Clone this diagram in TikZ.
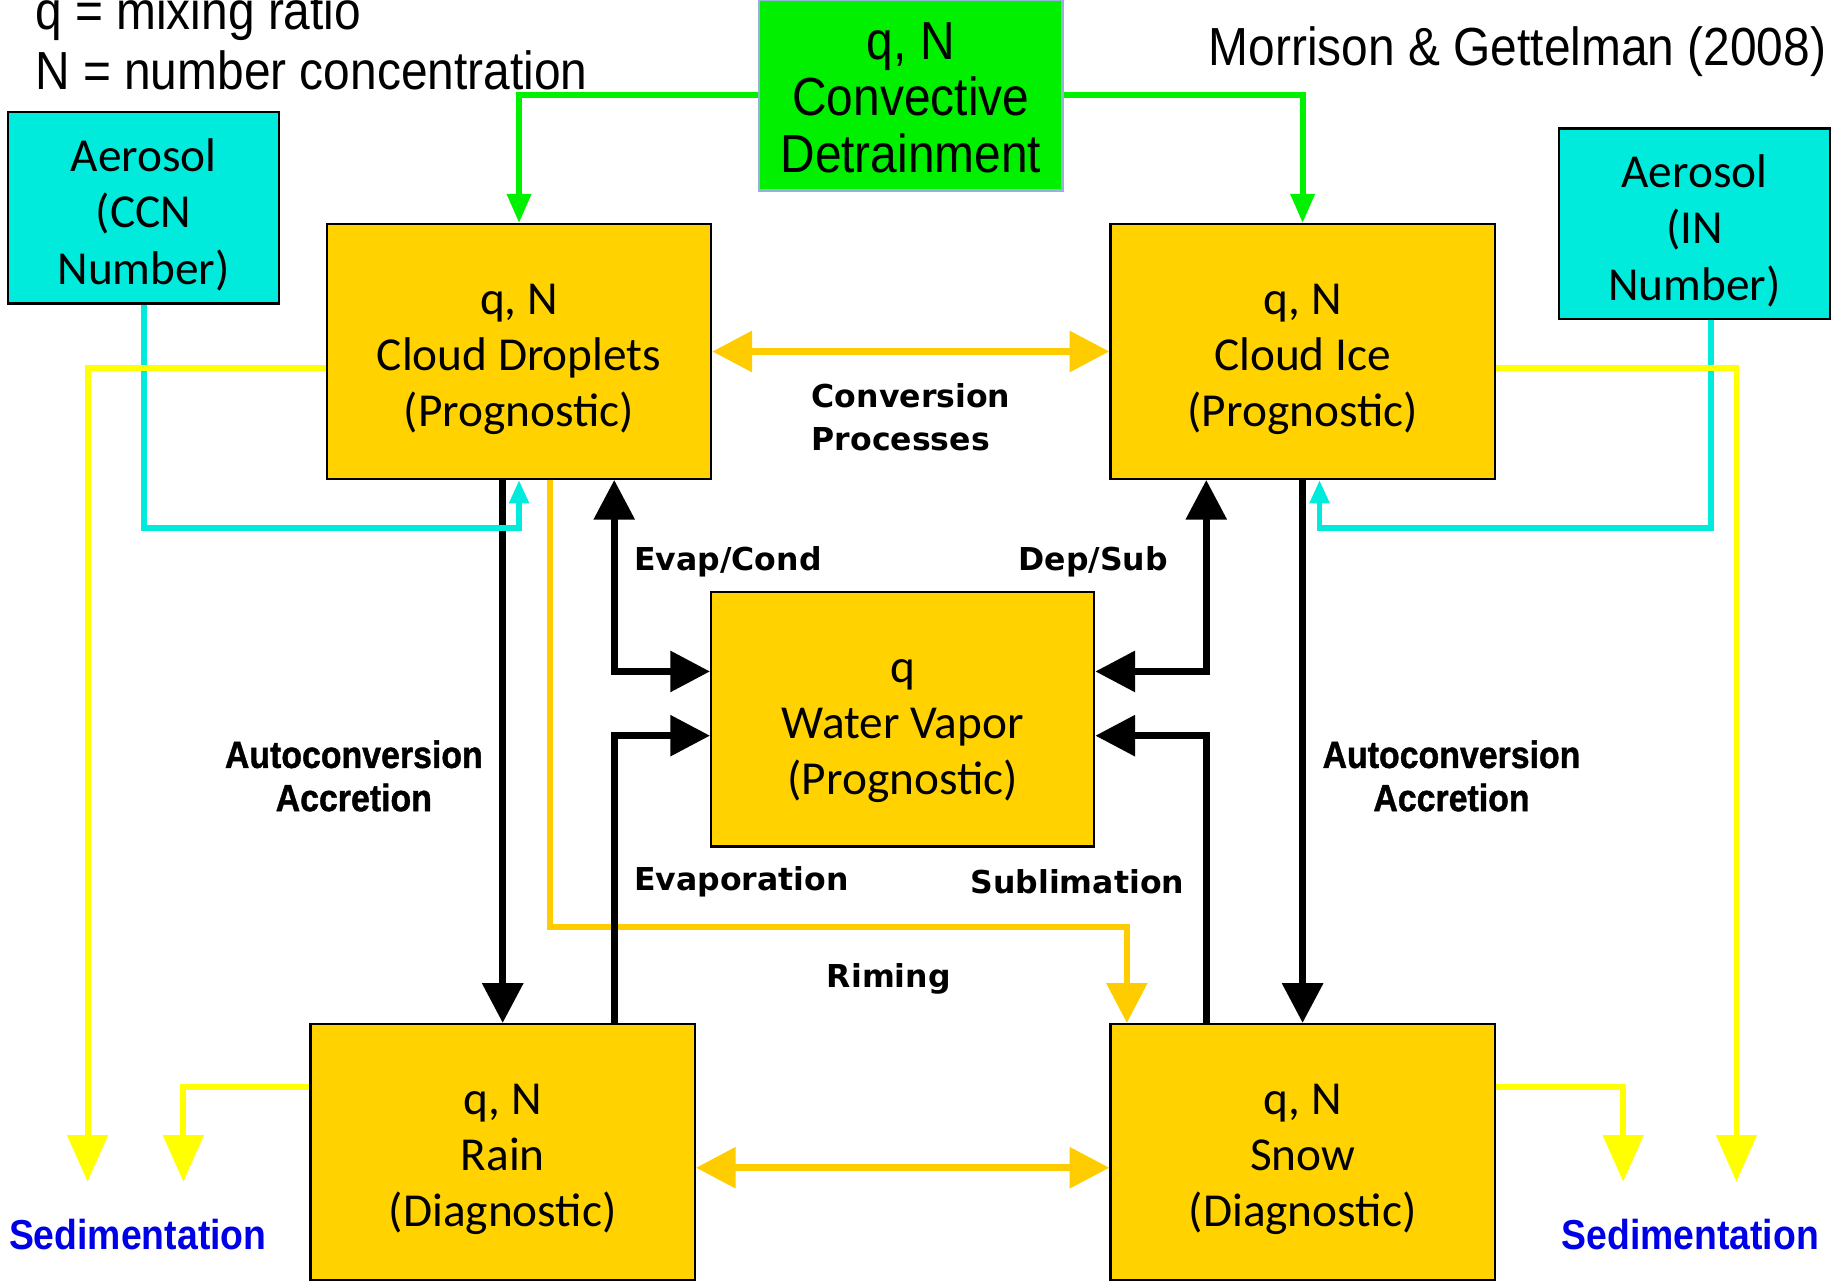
\documentclass[tikz,border=0pt]{standalone}
\usepackage{fontspec}
\usepackage{graphicx}
\usetikzlibrary{arrows.meta}
\newfontfamily\boxfont{Carlito}
\newfontfamily\arialfont{Liberation Sans}
\newfontfamily\heavyfont{Liberation Sans Bold}[FakeBold=1.2]
\newfontfamily\labfont{DejaVu Sans}
\definecolor{boxgold}{RGB}{255,210,0}
\definecolor{linegold}{RGB}{255,204,0}
\definecolor{aerocyan}{RGB}{0,235,220}
\definecolor{convgreen}{RGB}{0,240,0}
\definecolor{convedge}{RGB}{149,179,215}
\definecolor{sedblue}{RGB}{0,0,230}
\definecolor{sedyellow}{RGB}{255,255,0}
\newcommand\vst[1]{\scalebox{1}[1.12]{#1}}
\newcommand\boxtext[2]{\raisebox{-#1}[\height][\depth]{\begin{tabular}{@{}c@{}}#2\end{tabular}}}
\tikzset{
  procbox/.style={draw=black, line width=2pt, fill=boxgold, inner sep=0pt,
    minimum width=329pt, minimum height=218pt,
    font=\boxfont\fontsize{40.5}{48}\selectfont},
  aerobox/.style={draw=black, line width=2pt, fill=aerocyan, inner sep=0pt,
    minimum width=232pt, minimum height=164pt,
    font=\boxfont\fontsize{40.5}{48.5}\selectfont},
  convbox/.style={draw=convedge, line width=2pt, fill=convgreen, inner sep=0pt,
    minimum width=260pt, minimum height=163pt,
    font=\arialfont\fontsize{41}{48.5}\selectfont},
  lab/.style={inner sep=0pt, font=\labfont\bfseries\fontsize{27}{37}\selectfont},
  autolab/.style={inner sep=0pt, align=center, font=\heavyfont\fontsize{29}{37}\selectfont},
  sedlab/.style={inner sep=0pt, text=sedblue, font=\arialfont\bfseries\fontsize{32}{38}\selectfont},
  toptext/.style={inner sep=0pt, anchor=base west, font=\arialfont\fontsize{41}{48}\selectfont},
  blkone/.style={draw=black, line width=6pt, -{Triangle[length=34pt,width=34pt]}},
  blktwo/.style={draw=black, line width=6pt, {Triangle[length=34pt,width=34pt]}-{Triangle[length=34pt,width=34pt]}},
  goldtwo/.style={draw=linegold, line width=6pt, {Triangle[length=34pt,width=34pt]}-{Triangle[length=34pt,width=34pt]}},
  goldone/.style={draw=linegold, line width=5pt, -{Triangle[length=34pt,width=34pt]}},
  yelone/.style={draw=sedyellow, line width=5pt, -{Triangle[length=40pt,width=34pt]}},
  grnone/.style={draw=convgreen, line width=5pt, -{Triangle[length=25pt,width=20pt]}},
  cyaone/.style={draw=aerocyan, line width=5pt, -{Triangle[length=20pt,width=16pt]}},
}
\begin{document}
\begin{tikzpicture}[x=1pt,y=-1pt]
\useasboundingbox (0,0) rectangle (1568,1097);
\fill[white] (0,0) rectangle (1568,1097);

% text
\node[toptext] (t1) at (30,25) {\vst{q = mixing ratio}};
\node[toptext] (t2) at (30,77) {\vst{N = number concentration}};
\node[toptext] (t3) at (1035,56) {\vst{Morrison \& Gettelman (2008)}};

% boxes
\node[convbox] (conv) at (780,81.5) {\boxtext{8pt}{\vst{q, N}\\\vst{Convective}\\\vst{Detrainment}}};
\node[procbox] (cd) at (444.5,301) {\boxtext{7pt}{q, N\\Cloud Droplets\\(Prognostic)}};
\node[procbox] (ci) at (1115.5,301) {\boxtext{7pt}{q, N\\Cloud Ice\\(Prognostic)}};
\node[procbox, minimum width=328pt] (wv) at (773,616) {\boxtext{7pt}{q\\Water Vapor\\(Prognostic)}};
\node[procbox, minimum height=219pt] (rain) at (430.5,986.5) {\boxtext{6.5pt}{q, N\\Rain\\(Diagnostic)}};
\node[procbox, minimum height=219pt] (snow) at (1115.5,986.5) {\boxtext{6.5pt}{q, N\\Snow\\(Diagnostic)}};
\node[aerobox] (ccn) at (123,178) {\boxtext{7.5pt}{Aerosol\\(CCN\\Number)}};
\node[aerobox, minimum height=163pt] (ain) at (1451,191.5) {\boxtext{7.5pt}{Aerosol\\(IN\\Number)}};

% helper coordinates
\coordinate (ys) at (0,315);
\coordinate (yb) at (0,931);
\coordinate (yr) at (0,1000);
\coordinate (yc) at (0,452);
\coordinate (r1) at (0,575);
\coordinate (r2) at (0,630);
\coordinate (rmy) at (0,794);
\coordinate (xl) at (526,0);
\coordinate (xr) at (1033,0);
\coordinate (rm1) at (471,0);
\coordinate (rm2) at (965,0);
\coordinate (xc) at (1465,0);
\coordinate (xc2) at (1130,0);
\coordinate (sed1) at (75,1012);
\coordinate (sed2) at (157,1012);
\coordinate (sed3) at (1390,1012);
\coordinate (sed4) at (1487,1012);

% green
\draw[grnone] (conv.west) -| (cd.north);
\draw[grnone] (conv.east) -| (ci.north);

% gold double arrows
\draw[goldtwo] (cd.east) -- (ci.west);
\draw[goldtwo] (rain.east |- yr) -- (snow.west |- yr);

% riming
\draw[goldone] (cd.south -| rm1) |- (rmy -| rm2) -- (snow.north -| rm2);

% black
\draw[blktwo] (cd.south -| xl) |- (wv.west |- r1);
\draw[blkone] (rain.north -| xl) |- (wv.west |- r2);
\draw[blktwo] (ci.south -| xr) |- (wv.east |- r1);
\draw[blkone] (snow.north -| xr) |- (wv.east |- r2);
\draw[blkone] (cd.south -| rain.north) -- (rain.north);
\draw[blkone] (ci.south) -- (snow.north);

% cyan
\draw[cyaone] (ccn.south) -- (ccn.south |- yc) -| (cd.south);
\draw[cyaone] (ain.south -| xc) -- (yc -| xc) -| (ci.south -| xc2);

% yellow sedimentation
\draw[yelone] (cd.west |- ys) -| (sed1);
\draw[yelone] (rain.west |- yb) -| (sed2);
\draw[yelone] (snow.east |- yb) -| (sed3);
\draw[yelone] (ci.east |- ys) -| (sed4);

% labels
\node[lab, anchor=west, align=left] (cp) at (695,357.5) {Conversion\\Processes};
\node[lab, anchor=west] (ec) at (543,481) {Evap/Cond};
\node[lab, anchor=west] (ds) at (872,481) {Dep/Sub};
\node[lab, anchor=west] (ev) at (543,755) {Evaporation};
\node[lab, anchor=west] (sb) at (831,755) {Sublimation};
\node[lab, anchor=west] (rg) at (708,838) {Riming};
\node[autolab] (aa1) at (303,664.5) {\vst{Autoconversion}\\\vst{Accretion}};
\node[autolab] (aa2) at (1243,664.5) {\vst{Autoconversion}\\\vst{Accretion}};
\node[sedlab] (sd1) at (118,1057) {\vst{Sedimentation}};
\node[sedlab] (sd2) at (1447.5,1057) {\vst{Sedimentation}};
\end{tikzpicture}
\end{document}
